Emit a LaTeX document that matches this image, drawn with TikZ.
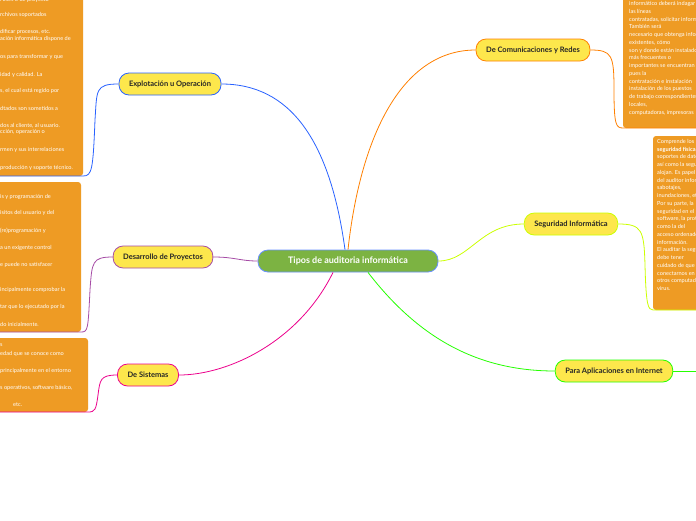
\documentclass[tikz,border=0pt]{standalone}
\usepackage{fontspec}
\setmainfont{Lato}
\definecolor{boxc}{HTML}{EE9B24}
\definecolor{nodec}{HTML}{FDE74C}
\definecolor{cenc}{HTML}{7CB342}
\definecolor{blu}{HTML}{2962FF}
\begin{document}
\begin{tikzpicture}[x=1pt,y=-1pt,
 br/.style={draw=#1,fill=nodec,rounded corners=10pt,line width=0.8pt,minimum height=22pt,inner xsep=10pt,font=\bfseries\fontsize{7.5}{9}\selectfont,text=black!85},
 box/.style={fill=boxc,draw=none},
 tl/.style={anchor=base west,inner sep=0pt,text=white,font=\fontsize{5.6}{6}\selectfont},
 cn/.style={line width=0.8pt}]
\useasboundingbox (0,0) rectangle (696,520);
\fill[white] (0,0) rectangle (696,520);
\begin{scope}
\clip (0,0) rectangle (696,520);
\fill[box,rounded corners=3pt] (-10,-10) rectangle (83,176);
\fill[box,rounded corners=3pt] (-10,182) rectangle (81,332);
\fill[box,rounded corners=3pt] (-10,338) rectangle (88,412);
\fill[box,rounded corners=3pt] (623,-10) rectangle (710,128);
\fill[box,rounded corners=3pt] (653,136) rectangle (710,310);
\node[draw=blu!70,fill=cenc,rounded corners=10pt,line width=0.8pt,minimum width=180pt,minimum height=22pt,font=\bfseries\fontsize{9}{11}\selectfont,text=white] (c) at (348,261) {Tipos de auditoria informática};
\node[br=blu] (e) at (170,84) {Explotación u Operación};
\node[br=violet!70] (d) at (163,257) {Desarrollo de Proyectos};
\node[br=magenta] (s) at (148,375) {De Sistemas};
\node[br=orange] (r) at (533,50) {De Comunicaciones y Redes};
\node[br=lime!80!yellow] (si) at (571,224) {Seguridad Informática};
\node[br=green!80!lime] (p) at (614,371) {Para Aplicaciones en Internet};
\coordinate (b1) at (83,176); \coordinate (b2) at (81,332); \coordinate (b3) at (88,412);
\coordinate (b4) at (623,128); \coordinate (b5) at (653,310); \coordinate (b6) at (700,371);
\draw[cn,blu] (c.north)+(-3,0) .. controls (330,140) and (290,84) .. (e.east);
\draw[cn,violet!70] (c.west) .. controls (240,261) and (235,257) .. (d.east);
\draw[cn,magenta] (c.south)+(-15,0) .. controls (300,340) and (230,375) .. (s.east);
\draw[cn,orange] (c.north) .. controls (360,140) and (400,50) .. (r.west);
\draw[cn,lime!80!yellow] (c.east) .. controls (470,261) and (480,224) .. (si.west);
\draw[cn,green!80!lime] (c.south)+(20,0) .. controls (420,340) and (480,371) .. (p.west);
\draw[cn,blu] (e.west) .. controls (95,84) and (97,90) .. (95,120) .. controls (93,170) and (92,176) .. (b1) -- (0,176);
\draw[cn,violet!70] (d.west) .. controls (92,257) and (92,262) .. (90,290) .. controls (88,330) and (88,332) .. (b2) -- (0,332);
\draw[cn,magenta] (s.west) .. controls (100,375) and (100,380) .. (98,395) .. controls (96,410) and (95,412) .. (b3) -- (0,412);
\draw[cn,orange] (r.east) .. controls (612,50) and (614,55) .. (614,90) .. controls (614,125) and (616,128) .. (b4) -- (696,128);
\draw[cn,lime!80!yellow] (si.east) .. controls (642,224) and (644,230) .. (645,265) .. controls (646,305) and (648,310) .. (b5) -- (696,310);
\draw[cn,green!80!lime] (p.east) -- (b6);
\foreach \y/\t in {1/{Fases o de proyecto},16/{rchivos soportados},33/{dificar procesos, etc.},40/{ación informática dispone de},58/{os para transformar y que},76/{idad y calidad. La},92/{s, el cual está regido por},110/{dtados son sometidos a},127/{dos al cliente, al usuario.},133/{cción, operación o},151/{rmen y sus interrelaciones},169/{producción y soporte técnico.}}
  \node[tl] at (0,\y) {\t};
\foreach \y/\t in {198/{is y programación de},214/{isitos del usuario y del},232/{(re)programación y},249/{a un exigente control},266/{e puede no satisfacer},291/{incipalmente comprobar la},308/{tar que lo ejecutado por la},326/{do inicialmente.}}
  \node[tl] at (0,\y) {\t};
\foreach \y/\t in {346/{s},355/{edad que se conoce como},372/{principalmente en el entorno},389/{s operativos, software básico,},406/{\hspace*{13pt}etc.}}
  \node[tl] at (0,\y) {\t};
\foreach \y/\t in {5/{informático deberá indagar},13/{las líneas},21/{contratadas, solicitar información.},28/{También será},36/{necesario que obtenga información},44/{existentes, cómo},52/{son y donde están instalados},59/{más frecuentes o},67/{importantes se encuentran},75/{pues la},83/{contratación e instalación},90/{instalación de los puestos},98/{de trabajo correspondientes},106/{locales,},114/{computadoras, impresoras}}
  \node[tl] at (629,\y) {\t};
\foreach \y/\t in {143/{Comprende los},151/{\bfseries seguridad física},158/{soportes de datos},166/{así como la seguridad},174/{alojan. Es papel},182/{del auditor informático},189/{sabotajes,},197/{inundaciones, etc.},205/{Por su parte, la},213/{seguridad en el},220/{software, la protección},228/{como la del},236/{acceso ordenado},244/{información.},251/{El auditar la seguridad},259/{debe tener},267/{cuidado de que},275/{conectarnos en},282/{otros computadores},290/{virus.}}
  \node[tl] at (657,\y) {\t};
\end{scope}
\end{tikzpicture}
\end{document}
